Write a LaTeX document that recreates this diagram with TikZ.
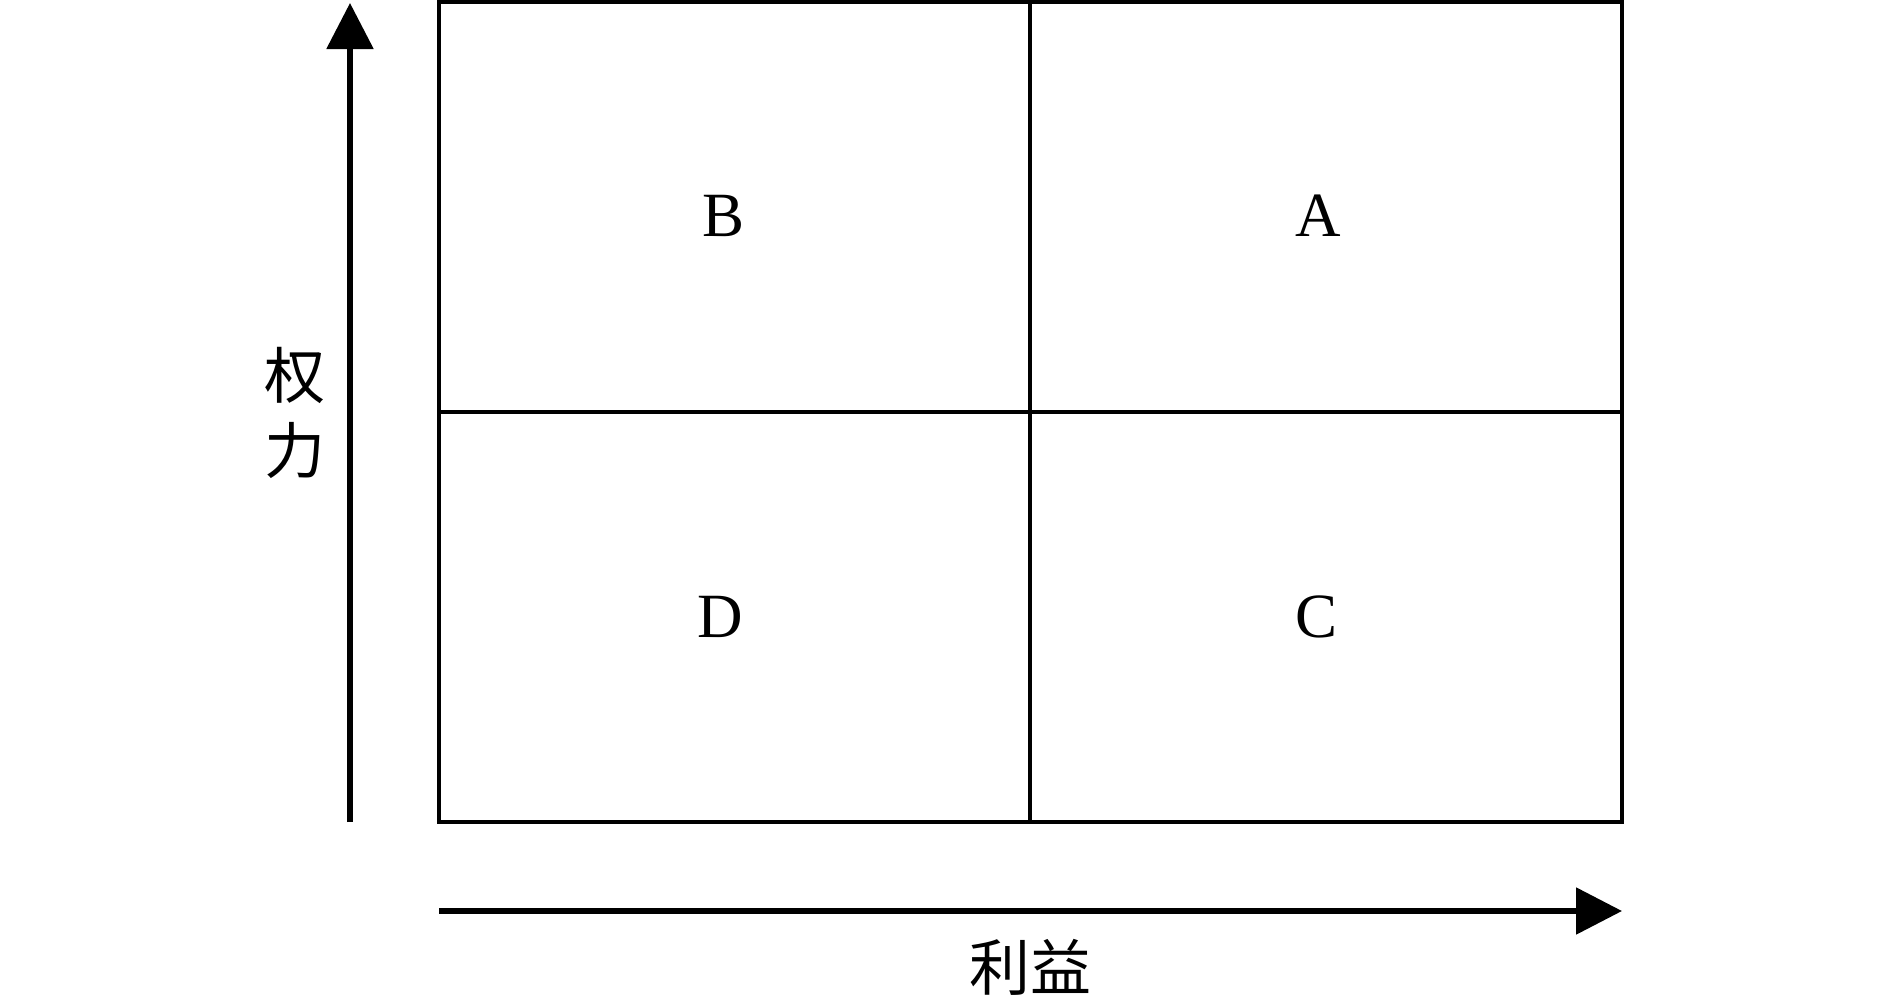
\documentclass[tikz,border=0pt]{standalone}
\usepackage{fontspec}
\setmainfont{Liberation Serif}
\newfontfamily\cjk{Noto Sans CJK SC}
\usetikzlibrary{arrows.meta}
\begin{document}
\begin{tikzpicture}[x=1pt,y=-1pt,
  gridline/.style={line width=4pt},
  axisline/.style={line width=5.5pt,-{Triangle[length=46pt,width=46pt]}},
  quadlabel/.style={font=\fontsize{63}{70}\selectfont,inner sep=0pt,anchor=center},
  axislabel/.style={font=\cjk\fontsize{61}{66}\selectfont,inner sep=0pt,anchor=center}]
\useasboundingbox (0,0) rectangle (1890,1001);
\fill[white] (0,0) rectangle (1890,1001);
% grid corners
\coordinate (tl) at (439,2);
\coordinate (br) at (1622,822);
\coordinate (tm) at (1030,2);
\coordinate (bm) at (1030,822);
\coordinate (ml) at (439,412);
\coordinate (mr) at (1622,412);
\draw[gridline] (tl) rectangle (br);
\draw[gridline] (tm) -- (bm);
\draw[gridline] (ml) -- (mr);
% axes
\coordinate (ys) at (350,822);
\coordinate (ye) at (350,3);
\coordinate (xs) at (439,911);
\coordinate (xe) at (1622,911);
\draw[axisline] (ys) -- (ye);
\draw[axisline] (xs) -- (xe);
% labels
\node[quadlabel] (B) at (724,216) {B};
\node[quadlabel] (A) at (1318,216) {A};
\node[quadlabel] (D) at (720,617) {D};
\node[quadlabel] (C) at (1316,617) {C};
\node[axislabel] (quan) at (295,375) {权};
\node[axislabel] (li) at (295,450) {力};
\node[axislabel] (liyi) at (1030,967) {利益};
\end{tikzpicture}
\end{document}
